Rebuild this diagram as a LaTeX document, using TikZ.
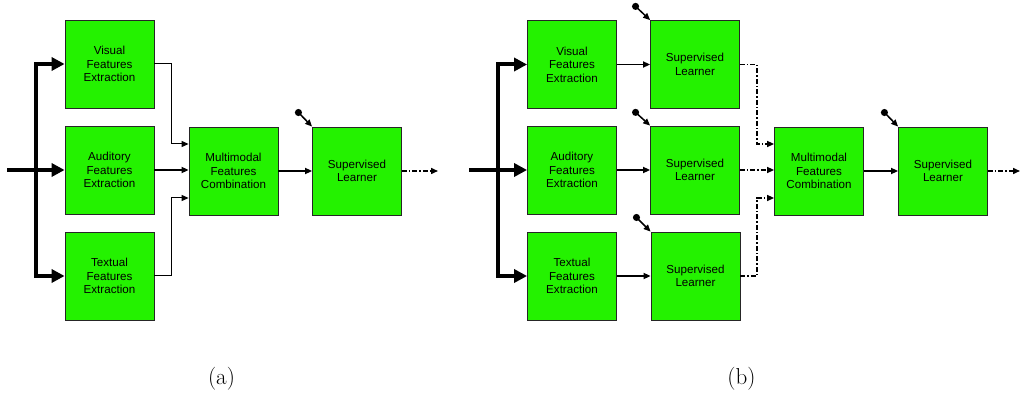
\documentclass[tikz,border=0pt]{standalone}
\usepackage{fontspec}
\setmainfont{Latin Modern Roman}
\newfontfamily\boxfont{Liberation Sans}
\usetikzlibrary{arrows.meta,calc}
\definecolor{boxgreen}{RGB}{36,242,0}
\tikzset{
  block/.style={draw=black!85,line width=0.8pt,fill=boxgreen,minimum width=89pt,minimum height=88pt,inner sep=1pt,
    align=center,font=\boxfont\fontsize{11.6}{13.5}\selectfont},
  bigarrow/.style={line width=4pt,-{Triangle[length=13pt,width=13pt]}},
  thinconn/.style={line width=1pt,-{Triangle[length=7pt,width=6pt]}},
  medconn/.style={line width=1.6pt,-{Triangle[length=7pt,width=6pt]}},
  ddconn/.style={line width=1.5pt,dash pattern=on 5pt off 2pt on 1.5pt off 2pt,-{Triangle[length=7pt,width=6pt]}},
  pinarrow/.style={line width=1.5pt,{Circle[length=7pt]}-{Triangle[length=7pt,width=6pt]}},
  caption/.style={font=\fontsize{23}{27}\selectfont,inner sep=0pt}
}
\begin{document}
\begin{tikzpicture}[x=1pt,y=-1pt]
\useasboundingbox (0,0) rectangle (1021,398);
% ---------- (a)
\node[block] (va) at (109.5,64) {Visual\\Features\\Extraction};
\node[block] (aa) at (109.5,170) {Auditory\\Features\\Extraction};
\node[block] (ta) at (109.5,276) {Textual\\Features\\Extraction};
\node[block] (ma) at (233.5,171) {Multimodal\\Features\\Combination};
\node[block] (sa) at (357,171) {Supervised\\Learner};
\coordinate (ina) at (7,170);
\coordinate (ja) at (36,170);
\coordinate (xa) at (171,0);
\coordinate (pa) at (296,110);
\coordinate (outa) at (438,171);
\draw[bigarrow] (ina) -- (aa.west);
\draw[bigarrow] (ja) |- (va.west);
\draw[bigarrow] (ja) |- (ta.west);
\draw[thinconn] (va.east) -- (va.east -| xa) |- ([yshift=27pt]ma.west);
\draw[medconn] (aa.east) -- (aa.east -| ma.west);
\draw[thinconn] (ta.east) -- (ta.east -| xa) |- ([yshift=-27pt]ma.west);
\draw[medconn] (ma.east) -- (ma.east -| sa.west);
\draw[pinarrow] (pa) -- (sa.north west);
\draw[ddconn] (sa.east) -- (outa);
\node[caption] (capa) at (221.5,379) {(a)};
% ---------- (b)
\node[block] (vb) at (572,64.5) {Visual\\Features\\Extraction};
\node[block] (ab) at (572,170) {Auditory\\Features\\Extraction};
\node[block] (tb) at (572,276) {Textual\\Features\\Extraction};
\node[block] (s1) at (695,64.5) {Supervised\\Learner};
\node[block] (s2) at (695,170) {Supervised\\Learner};
\node[block] (s3) at (695.5,276) {Supervised\\Learner};
\node[block] (mb) at (819,171) {Multimodal\\Features\\Combination};
\node[block] (sb) at (943,171) {Supervised\\Learner};
\coordinate (inb) at (469,170);
\coordinate (jb) at (498,170);
\coordinate (xb) at (757,0);
\coordinate (p1) at (633,4);
\coordinate (p2) at (633,110);
\coordinate (p3) at (634,215);
\coordinate (pb) at (882,110);
\coordinate (outb) at (1020,171);
\draw[bigarrow] (inb) -- (ab.west);
\draw[bigarrow] (jb) |- (vb.west);
\draw[bigarrow] (jb) |- (tb.west);
\draw[medconn] (vb.east) -- (vb.east -| s1.west);
\draw[medconn] (ab.east) -- (ab.east -| s2.west);
\draw[medconn] (tb.east) -- (tb.east -| s3.west);
\draw[pinarrow] (p1) -- (s1.north west);
\draw[pinarrow] (p2) -- (s2.north west);
\draw[pinarrow] (p3) -- (s3.north west);
\draw[ddconn] (s1.east) -- (s1.east -| xb) |- ([yshift=27pt]mb.west);
\draw[ddconn] (s2.east) -- (s2.east -| mb.west);
\draw[ddconn] (s3.east) -- (s3.east -| xb) |- ([yshift=-27pt]mb.west);
\draw[medconn] (mb.east) -- (mb.east -| sb.west);
\draw[pinarrow] (pb) -- (sb.north west);
\draw[ddconn] (sb.east) -- (outb);
\node[caption] (capb) at (741.5,379) {(b)};
\end{tikzpicture}
\end{document}
